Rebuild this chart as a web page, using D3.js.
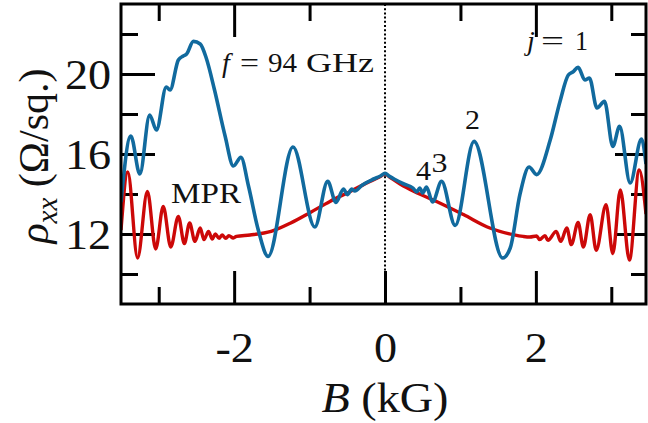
<!DOCTYPE html>
<html>
<head>
<meta charset="utf-8">
<script src="https://cdn.jsdelivr.net/npm/d3@7"></script>
<style>
  body { margin: 0; background: #fff; }
  svg text { font-family: "Liberation Serif", "Times New Roman", serif; fill: #111; }
</style>
</head>
<body>
<svg id="chart" width="648" height="423"></svg>
<script>
// tick positions (kG and Ohm/sq.)
const xMajor = [-2, 0, 2];
const xMinor = [-3, -1, 1, 3];
const yMajor = [12, 16, 20];
const yMinor = [10, 14, 18, 22];

// rho_xx under 94 GHz irradiation, [B (kG), rho (Ohm/sq.)]
const irradiated = [
    [-3.50, 13.6], [-3.37, 16.9], [-3.25, 15.0], [-3.12, 17.95], [-3.03, 17.2],
    [-2.90, 19.35], [-2.85, 19.2], [-2.74, 20.7], [-2.675, 20.9], [-2.63, 21.0],
    [-2.54, 21.63], [-2.45, 21.5], [-2.37, 20.8], [-2.26, 19.2], [-2.12, 16.9],
    [-2.01, 15.4], [-1.91, 15.83], [-1.81, 14.4], [-1.68, 12.2], [-1.55, 10.88],
    [-1.22, 16.35], [-0.93, 12.35], [-0.76, 14.63], [-0.65, 13.58], [-0.55, 14.25],
    [-0.50, 13.97], [-0.44, 14.25], [-0.40, 14.15], [-0.30, 14.45], [-0.15, 14.75],
    [-0.06, 14.9], [0.00, 15.03], [0.06, 14.88], [0.12, 14.75], [0.25, 14.5],
    [0.37, 14.3], [0.42, 14.1], [0.46, 14.3], [0.50, 14.05], [0.55, 14.35],
    [0.63, 13.6], [0.75, 14.63], [0.93, 12.43], [1.18, 16.63], [1.56, 10.8],
    [1.66, 11.3], [1.79, 14.0], [1.91, 15.35], [2.01, 14.97], [2.19, 16.7],
    [2.32, 18.63], [2.43, 19.95], [2.49, 20.1], [2.56, 20.33], [2.65, 19.7],
    [2.71, 19.8], [2.81, 18.3], [2.91, 18.63], [3.02, 16.38], [3.11, 17.38],
    [3.25, 14.55], [3.40, 16.75], [3.46, 15.5]
];

// dark trace (MPR), [B (kG), rho (Ohm/sq.)]
const dark = [
    [-3.50, 12.2], [-3.41, 15.1], [-3.28, 10.8], [-3.15, 14.13], [-3.04, 11.25],
    [-2.94, 13.38], [-2.84, 11.35], [-2.74, 12.88], [-2.66, 11.52], [-2.59, 12.55],
    [-2.52, 11.63], [-2.45, 12.3], [-2.40, 11.72], [-2.34, 12.13], [-2.29, 11.75],
    [-2.25, 12.0], [-2.20, 11.78], [-2.16, 11.95], [-2.11, 11.78], [-2.07, 11.92],
    [-2.01, 11.8], [-1.97, 11.88], [-1.79, 11.95], [-1.51, 12.13], [-1.25, 12.55],
    [-0.99, 13.08], [-0.73, 13.63], [-0.46, 14.13], [-0.20, 14.63], [-0.06, 14.88],
    [0.00, 15.0], [0.06, 14.85], [0.20, 14.5], [0.40, 14.1], [0.64, 13.7],
    [1.04, 12.97], [1.39, 12.3], [1.70, 11.97], [1.83, 11.88], [1.92, 11.85],
    [2.01, 11.9], [2.05, 11.72], [2.12, 11.92], [2.16, 11.68], [2.27, 12.13],
    [2.33, 11.63], [2.41, 12.3], [2.47, 11.47], [2.56, 12.58], [2.63, 11.35],
    [2.72, 12.97], [2.80, 11.18], [2.93, 13.47], [3.02, 11.02], [3.12, 14.2],
    [3.24, 10.7], [3.37, 15.2], [3.46, 13.0]
];

const svg = d3.select('#chart');
const plot = {left: 121, right: 646, top: 4, bottom: 304};

const x = d3.scaleLinear().domain([-3.5, 3.46]).range([plot.left, plot.right]);
const y = d3.scaleLinear().domain([8.5, 23.5]).range([plot.bottom, plot.top]);

// dotted line at B = 0
svg.append('line')
    .attr('x1', x(0)).attr('x2', x(0))
    .attr('y1', plot.top).attr('y2', plot.bottom)
    .style('stroke', '#000')
    .style('stroke-width', 2)
    .style('stroke-dasharray', '2,2.2');

function drawTicks(axis, tr) {
    const g = svg.append('g').attr('transform', tr).call(axis);
    g.select('.domain').remove();
    g.selectAll('line').style('stroke', '#000').style('stroke-width', 3);
    return g;
}

const noLabel = () => '';

// inward ticks on all four sides
const bottomMajor = drawTicks(d3.axisBottom(x).tickValues(xMajor).tickSize(-33).tickFormat(d => String(d)),
    `translate(0,${plot.bottom})`);
drawTicks(d3.axisBottom(x).tickValues(xMinor).tickSize(-17).tickFormat(noLabel), `translate(0,${plot.bottom})`);
drawTicks(d3.axisTop(x).tickValues(xMajor.filter(d => d !== 0)).tickSize(-33).tickFormat(noLabel), `translate(0,${plot.top})`);
drawTicks(d3.axisTop(x).tickValues(xMinor).tickSize(-17).tickFormat(noLabel), `translate(0,${plot.top})`);

const leftMajor = drawTicks(d3.axisLeft(y).tickValues(yMajor).tickSize(-34).tickFormat(d => String(d)),
    `translate(${plot.left},0)`);
drawTicks(d3.axisLeft(y).tickValues(yMinor).tickSize(-17).tickFormat(noLabel), `translate(${plot.left},0)`);
drawTicks(d3.axisRight(y).tickValues(yMajor).tickSize(-31).tickFormat(noLabel), `translate(${plot.right},0)`);
drawTicks(d3.axisRight(y).tickValues(yMinor).tickSize(-15).tickFormat(noLabel), `translate(${plot.right},0)`);

bottomMajor.selectAll('text')
    .attr('y', 58).attr('dy', null)
    .attr('transform', 'scale(1.1,1)')
    .style('font-size', '42px');

leftMajor.selectAll('text')
    .attr('x', -9).attr('dy', '0.34em')
    .attr('transform', 'scale(1.1,1)')
    .style('font-size', '42px');

// curves
svg.append('clipPath').attr('id', 'clip')
    .append('rect')
    .attr('x', plot.left).attr('y', plot.top)
    .attr('width', plot.right - plot.left).attr('height', plot.bottom - plot.top);

const line = d3.line()
    .x(d => x(d[0]))
    .y(d => y(d[1]))
    .curve(d3.curveMonotoneX);

const curves = svg.append('g').attr('clip-path', 'url(#clip)');
curves.append('path').datum(dark)
    .attr('d', line)
    .style('fill', 'none').style('stroke', '#cc0808').style('stroke-width', 3.4);
curves.append('path').datum(irradiated)
    .attr('d', line)
    .style('fill', 'none').style('stroke', '#116a9e').style('stroke-width', 3.6);

// frame
svg.append('rect')
    .attr('x', plot.left).attr('y', plot.top)
    .attr('width', plot.right - plot.left).attr('height', plot.bottom - plot.top)
    .style('fill', 'none').style('stroke', '#000').style('stroke-width', 3);

// axis titles
const xTitle = svg.append('text')
    .attr('transform', `translate(${x(0)},412) scale(1.1,1)`)
    .attr('text-anchor', 'middle')
    .style('font-size', '42px');
xTitle.append('tspan').style('font-style', 'italic').text('B');
xTitle.append('tspan').text(' (kG)');

const yTitle = svg.append('text')
    .attr('transform', 'translate(48,156) rotate(-90)')
    .attr('text-anchor', 'middle')
    .style('font-size', '42px');
yTitle.append('tspan').style('font-style', 'italic').text('ρ');
yTitle.append('tspan').style('font-style', 'italic').style('font-size', '29px').attr('dy', 9).text('xx');
yTitle.append('tspan').attr('dy', -9).text(' (Ω/sq.)');

// annotations
function label(str, x0, y0, size, opts = {}) {
    const t = svg.append('text')
        .attr('x', x0).attr('y', y0)
        .style('font-size', size + 'px')
        .text(str);
    if (opts.italic) t.style('font-style', 'italic');
    if (opts.width) t.attr('textLength', opts.width).attr('lengthAdjust', 'spacingAndGlyphs');
    return t;
}

label('f', 222, 72, 28, {italic: true});
label('=', 240, 72, 28, {width: 19});
label('94', 268, 72, 28, {width: 29});
label('GHz', 306, 72, 28, {width: 68});

label('j', 527, 50, 28, {italic: true});
label('=', 541, 50, 28, {width: 23});
label('1', 575, 50, 28, {width: 13});

label('2', 465, 128.5, 28, {width: 15});
label('4', 416, 179.5, 28, {width: 15});
label('3', 431.5, 171.5, 28, {width: 16});
label('MPR', 171, 203, 30, {width: 70});
</script>
</body>
</html>
